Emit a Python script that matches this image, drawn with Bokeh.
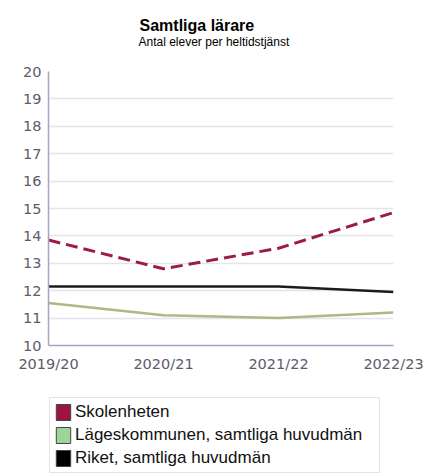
from bokeh.plotting import figure
from bokeh.layouts import column
from bokeh.models import Range1d, Legend, LegendItem, Label, FixedTicker
from bokeh.embed import file_html
from bokeh.resources import INLINE

years = ["2019/20", "2020/21", "2021/22", "2022/23"]
skolenheten = [13.85, 12.8, 13.55, 14.85]
lageskommunen = [11.55, 11.1, 11.0, 11.2]
riket = [12.15, 12.15, 12.15, 11.95]
y_ticks = list(range(10, 21))
series_names = ["Skolenheten", "Lägeskommunen, samtliga huvudmän", "Riket, samtliga huvudmän"]
title_text = "Samtliga lärare"
subtitle_text = "Antal elever per heltidstjänst"

x = list(range(len(years)))
W = 427
BL, BR = 48, 34

# ---- title strip ----
tf = figure(width=W, height=60, output_backend="svg", toolbar_location=None,
            x_range=Range1d(0, 1), y_range=Range1d(0, 1),
            min_border_left=BL, min_border_right=BR, min_border_top=0, min_border_bottom=0)
tf.axis.visible = False
tf.grid.visible = False
tf.outline_line_color = None
tf.add_layout(Label(x=91, y=35, x_units="screen", y_units="screen", text=title_text,
                    text_font="Liberation Sans", text_font_size="16px", text_font_style="bold",
                    text_color="#000000", text_baseline="alphabetic"))
tf.add_layout(Label(x=90, y=19, x_units="screen", y_units="screen", text=subtitle_text,
                    text_font="Liberation Sans", text_font_size="12px",
                    text_color="#000000", text_baseline="alphabetic"))

# ---- main chart ----
p = figure(width=W, height=335, output_backend="svg", toolbar_location=None,
           x_range=Range1d(0, len(years) - 1), y_range=Range1d(y_ticks[0], y_ticks[-1]),
           min_border_left=BL, min_border_right=BR, min_border_top=11, min_border_bottom=50)
p.outline_line_color = None

p.line(x, lageskommunen, line_color="#a9bb82", line_width=2.5)
p.line(x, riket, line_color="#1c1c1c", line_width=2.5)
p.line(x, skolenheten, line_color="#9b1d46", line_width=3, line_dash="12 6")

p.xaxis.ticker = FixedTicker(ticks=x, minor_ticks=[])
p.xaxis.major_label_overrides = {i: lab for i, lab in enumerate(years)}
p.yaxis.ticker = FixedTicker(ticks=y_ticks, minor_ticks=[])
for ax in (p.xaxis, p.yaxis):
    ax.axis_line_color = "#a4a4c4"
    ax.axis_line_width = 1.5
    ax.major_tick_out = 0
    ax.major_tick_in = 0
    ax.minor_tick_out = 0
    ax.minor_tick_in = 0
    ax.major_label_text_font = "DejaVu Sans"
    ax.major_label_text_font_size = "14.5px"
    ax.major_label_text_color = "#5c5c6c"
p.yaxis.major_label_standoff = 7
p.xaxis.major_label_standoff = 10

p.ygrid.grid_line_color = "#e4e4ee"
p.ygrid.grid_line_width = 1.5
p.xgrid.grid_line_color = None

# ---- legend strip ----
lf = figure(width=W, height=80, output_backend="svg", toolbar_location=None,
            x_range=Range1d(0, 1), y_range=Range1d(0, 1),
            min_border_left=BL, min_border_right=BR, min_border_top=0, min_border_bottom=0)
lf.axis.visible = False
lf.grid.visible = False
lf.outline_line_color = None

nan = float("nan")
colors = ["#9c1442", "#9ed49a", "#000000"]
items = []
for name, c in zip(series_names, colors):
    r = lf.quad(left=[nan], right=[nan], top=[nan], bottom=[nan], fill_color=c, line_color="#444444")
    items.append(LegendItem(label=name, renderers=[r]))
legend = Legend(items=items, location=(1, 2), orientation="vertical", padding=4,
                spacing=3, glyph_width=18, glyph_height=20, label_standoff=3, label_height=20,
                label_width=300,
                label_text_font="Liberation Sans", label_text_font_size="17px",
                label_text_color="#111111", border_line_color="#cccccc",
                background_fill_color="white", background_fill_alpha=1, margin=0)
lf.add_layout(legend, "center")

layout = column(tf, p, lf, spacing=0)
open("out.html", "w").write(file_html(layout, INLINE))
